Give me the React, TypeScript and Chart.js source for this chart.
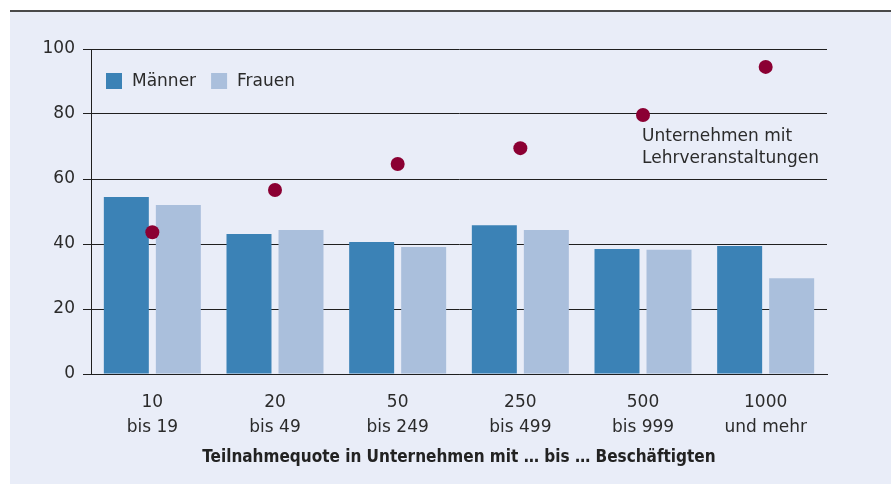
import React, { useEffect, useRef } from "react";
import { Chart, registerables } from "chart.js";

Chart.register(...registerables);

const categories: string[][] = [
  ["10", "bis 19"],
  ["20", "bis 49"],
  ["50", "bis 249"],
  ["250", "bis 499"],
  ["500", "bis 999"],
  ["1000", "und mehr"],
];
const maenner = [54.5, 43.1, 40.6, 45.8, 38.5, 39.4];
const frauen = [52.0, 44.3, 39.1, 44.3, 38.2, 29.5];
const lehrveranstaltungen = [43.6, 56.6, 64.6, 69.5, 79.7, 94.5];
const seriesLabels = ["Männer", "Frauen", "Unternehmen mit Lehrveranstaltungen"];
const annotationLines = ["Unternehmen mit", "Lehrveranstaltungen"];
const axisTitle = "Teilnahmequote in Unternehmen mit … bis … Beschäftigten";
const yMin = 0;
const yMax = 100;
const yStep = 20;

const C_M = "#3b82b6";
const C_F = "#aabfdc";
const C_DOT = "#8b0033";
const C_TEXT = "#2b2b2b";
const C_LINE = "#1f1f1f";
const FONT = '"DejaVu Sans", sans-serif';

const overlay = {
  id: "overlay",
  afterDraw(chart: any) {
    const { ctx, chartArea } = chart;
    ctx.save();
    ctx.font = `17px ${FONT}`;
    ctx.fillStyle = C_TEXT;
    ctx.textBaseline = "middle";
    ctx.textAlign = "left";
    // legend
    let x = chartArea.left + 15;
    const y = chartArea.top + 32;
    const items: [string, string][] = [
      [C_M, seriesLabels[0]],
      [C_F, seriesLabels[1]],
    ];
    for (const [col, lab] of items) {
      ctx.fillStyle = col;
      ctx.fillRect(x, y - 8, 16, 16);
      ctx.fillStyle = C_TEXT;
      ctx.fillText(lab, x + 26, y + 1);
      x += 26 + ctx.measureText(lab).width + 15;
    }
    // annotation
    const xs = chart.scales.x;
    const ax = xs.getPixelForValue(4) - 1;
    ctx.textBaseline = "alphabetic";
    ctx.fillText(annotationLines[0], ax, chartArea.top + 92);
    ctx.fillText(annotationLines[1], ax, chartArea.top + 114);
    ctx.restore();
  },
};

export default function App() {
  const ref = useRef<HTMLCanvasElement>(null);
  useEffect(() => {
    document.body.style.margin = "0";
    const chart = new Chart(ref.current!, {
      type: "bar",
      data: {
        labels: categories,
        datasets: [
          {
            type: "line",
            label: seriesLabels[2],
            data: lehrveranstaltungen,
            showLine: false,
            pointRadius: 7,
            pointHoverRadius: 7,
            pointBorderWidth: 0,
            pointBackgroundColor: C_DOT,
            borderColor: C_DOT,
            backgroundColor: C_DOT,
            order: 0,
          } as any,
          {
            label: seriesLabels[0],
            data: maenner,
            backgroundColor: C_M,
            borderWidth: 0,
            categoryPercentage: 0.848,
            barPercentage: 0.865,
            order: 1,
          },
          {
            label: seriesLabels[1],
            data: frauen,
            backgroundColor: C_F,
            borderWidth: 0,
            categoryPercentage: 0.848,
            barPercentage: 0.865,
            order: 1,
          },
        ],
      },
      options: {
        animation: false,
        responsive: false,
        devicePixelRatio: 1,
        layout: { padding: { left: 10, top: 49, right: 64, bottom: 0 } },
        plugins: { legend: { display: false }, tooltip: { enabled: false } },
        scales: {
          x: {
            grid: { display: false },
            border: { display: true, color: C_LINE, width: 1 },
            ticks: {
              color: C_TEXT,
              font: { family: FONT, size: 17, lineHeight: 1.47 },
              padding: 8.5,
              maxRotation: 0,
              autoSkip: false,
            },
            title: {
              display: true,
              text: axisTitle,
              color: "#222222",
              font: { family: '"DejaVu Sans Condensed", "Liberation Sans Narrow", sans-serif', size: 17, weight: "bold", lineHeight: 1.2 },
              padding: { top: 16, bottom: 16 },
            },
            afterFit: (s: any) => {
              s.height = 110;
            },
          },
          y: {
            min: yMin,
            max: yMax,
            ticks: {
              stepSize: yStep,
              color: C_TEXT,
              font: { family: FONT, size: 17 },
              padding: 8,
            },
            grid: { color: C_LINE, lineWidth: 1, tickLength: 8, drawTicks: true },
            border: { display: true, color: C_LINE, width: 1 },
            afterFit: (s: any) => {
              s.width = 81;
            },
          },
        },
      },
      plugins: [overlay],
    });
    return () => chart.destroy();
  }, []);

  return (
    <div style={{ position: "relative", width: 891, height: 484, background: "#ffffff", overflow: "hidden" }}>
      <div
        style={{
          position: "absolute",
          left: 10,
          top: 10,
          right: 0,
          bottom: 0,
          background: "#e9edf8",
          borderTop: "2px solid #4a4a4a",
        }}
      />
      <canvas ref={ref} width={891} height={484} style={{ position: "absolute", left: 0, top: 0, width: 891, height: 484 }} />
    </div>
  );
}
